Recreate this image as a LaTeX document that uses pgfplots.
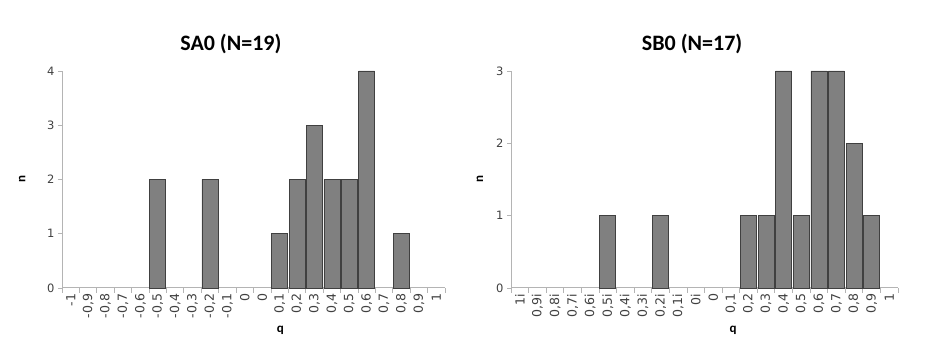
\documentclass[border=0pt]{standalone}
\usepackage{pgfplots}
\pgfplotsset{compat=1.18}
\usepackage{fontspec}
\setmainfont{DejaVu Sans}
\newfontfamily\titlefont{Carlito}
\definecolor{barfill}{HTML}{808080}
\definecolor{axgray}{HTML}{B4B4B4}
\definecolor{ticktext}{HTML}{404040}
\pgfplotsset{
  hist/.style={
    scale only axis,
    ybar, bar width=16pt,
    axis x line*=bottom, axis y line*=left,
    axis line style={draw=axgray, line width=1pt, -},
    xmin=-0.5, xmax=21.5, ymin=0,
    xtick={0,...,21}, major x tick style={draw=none},
    minor xtick={-0.5,0.5,...,21.5},
    minor tick length=5pt,
    minor x tick style={draw=axgray, line width=0.8pt},
    major tick length=4pt,
    tick align=outside,
    y tick style={draw=axgray, line width=0.8pt},
    xticklabel style={rotate=90, anchor=east, font=\fontsize{12.5}{14}\selectfont, text=ticktext, inner sep=1.5pt},
    yticklabel style={font=\fontsize{11.5}{13}\selectfont, text=ticktext},
    /pgf/number format/assume math mode=true,
    ylabel style={font=\titlefont\bfseries\fontsize{13}{15}\selectfont, rotate=0},
    xlabel style={font=\titlefont\bfseries\fontsize{13}{15}\selectfont},
    title style={font=\titlefont\bfseries\fontsize{22}{26}\selectfont},
    clip=false,
  }
}
\begin{document}
\begin{tikzpicture}[x=1pt,y=1pt]
\useasboundingbox (0,0) rectangle (926,353);
\begin{axis}[hist,
  at={(62pt,65pt)}, anchor=south west,
  width=383pt, height=217pt,
  ymax=4, ytick={0,1,2,3,4},
  xticklabels={-1,{-0,9},{-0,8},{-0,7},{-0,6},{-0,5},{-0,4},{-0,3},{-0,2},{-0,1},0,0,{0,1},{0,2},{0,3},{0,4},{0,5},{0,6},{0,7},{0,8},{0,9},1},
  title={SA0 (N=19)}, title style={at={(axis description cs:0.441,1.095)}, anchor=center},
  xlabel={q}, xlabel style={at={(axis description cs:0.57,-0.195)}, anchor=center},
  ylabel={n}, ylabel style={at={(axis description cs:-0.104,0.5)}, anchor=center, rotate=0},
]
\addplot[fill=barfill, draw=black!75, line width=0.6pt] coordinates {
(5,2) (8,2) (12,1) (13,2) (14,3) (15,2) (16,2) (17,4) (19,1)
};
\end{axis}
\begin{axis}[hist,
  at={(511pt,65pt)}, anchor=south west,
  width=387pt, height=217pt,
  ymax=3, ytick={0,1,2,3},
  xticklabels={1i,{0,9i},{0,8i},{0,7i},{0,6i},{0,5i},{0,4i},{0,3i},{0,2i},{0,1i},0i,0,{0,1},{0,2},{0,3},{0,4},{0,5},{0,6},{0,7},{0,8},{0,9},1},
  title={SB0 (N=17)}, title style={at={(axis description cs:0.468,1.095)}, anchor=center},
  xlabel={q}, xlabel style={at={(axis description cs:0.574,-0.195)}, anchor=center},
  ylabel={n}, ylabel style={at={(axis description cs:-0.08,0.5)}, anchor=center, rotate=0},
]
\addplot[fill=barfill, draw=black!75, line width=0.6pt] coordinates {
(5,1) (8,1) (13,1) (14,1) (15,3) (16,1) (17,3) (18,3) (19,2) (20,1)
};
\end{axis}
\end{tikzpicture}
\end{document}
